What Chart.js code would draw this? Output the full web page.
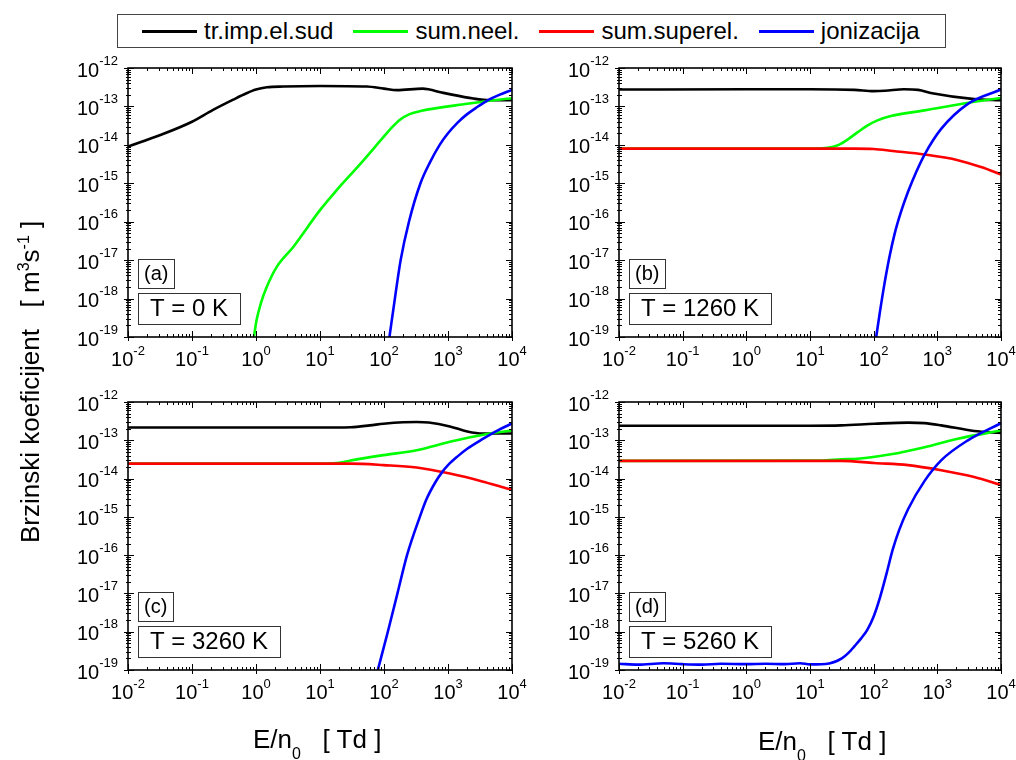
<!DOCTYPE html>
<html>
<head>
<meta charset="utf-8">
<script src="https://cdn.jsdelivr.net/npm/chart.js@4.4.0/dist/chart.umd.min.js"></script>
<style>
  body { margin: 0; background: #fff; font-family: "Liberation Sans", Arial, sans-serif; }
  #wrap { position: relative; width: 1016px; height: 760px; overflow: hidden; }
  #wrap canvas { position: absolute; left: 0; top: 0; }
  #legend {
    position: absolute; left: 117px; top: 14px; width: 829px; height: 34px;
    box-sizing: border-box; border: 1px solid #444; background: #fff;
    display: flex; align-items: center; padding-left: 24px; font-size: 24px;
  }
  #legend .line { display: inline-block; width: 55px; height: 3px; margin-right: 7px; }
  #legend .txt { margin-right: 20px; }
  .xtitle, .ytitle { position: absolute; font-size: 26px; line-height: 30px; white-space: pre; }
  .xtitle sub { font-size: 16px; vertical-align: -11px; line-height: 0; }
  .ytitle { transform: rotate(-90deg); transform-origin: left top; }
  .ytitle sup { font-size: 16px; vertical-align: 10px; line-height: 0; }
</style>
</head>
<body>
<div id="wrap">
  <canvas id="chartA" width="1016" height="760"></canvas>
  <canvas id="chartB" width="1016" height="760"></canvas>
  <canvas id="chartC" width="1016" height="760"></canvas>
  <canvas id="chartD" width="1016" height="760"></canvas>
  <div id="legend"></div>
  <div class="ytitle" style="left:15px; top:543px;">Brzinski koeficijent   [ m<sup>3</sup>s<sup>-1</sup> ]</div>
  <div class="xtitle" style="left:253px; top:724px;">E/n<sub>0</sub>   [ Td ]</div>
  <div class="xtitle" style="left:758px; top:726px;">E/n<sub>0</sub>   [ Td ]</div>
</div>
<script>
const seriesNames = ['tr.imp.el.sud', 'sum.neel.', 'sum.superel.', 'jonizacija'];
const seriesColors = ['#000000', '#00ff00', '#ff0000', '#0000ff'];

const panelTags = ['(a)', '(b)', '(c)', '(d)'];
const panelTemps = ['T = 0 K', 'T = 1260 K', 'T = 3260 K', 'T = 5260 K'];

const xTickExps = [-2, -1, 0, 1, 2, 3, 4];
const yTickExps = [-19, -18, -17, -16, -15, -14, -13, -12];

// (a) T = 0 K
const aTrX = [0.01, 0.032, 0.1, 0.21, 0.44, 0.71, 1, 1.48, 2.7, 10, 54, 100, 160, 400, 850, 2500, 4600, 10000];
const aTrY = [9e-15, 1.8e-14, 4e-14, 8e-14, 1.5e-13, 2.2e-13, 2.75e-13, 3.15e-13, 3.3e-13, 3.4e-13, 3.3e-13, 2.9e-13, 2.65e-13, 2.9e-13, 2.25e-13, 1.6e-13, 1.45e-13, 1.45e-13];
const aNeelX = [0.927, 1.023, 1.2, 1.47, 2.1, 3.82, 10, 18.2, 42.7, 97.7, 131.8, 177.8, 251, 371, 1995, 8318, 10000];
const aNeelY = [1e-19, 2.8e-19, 7.9e-19, 2e-18, 6.6e-18, 2.2e-17, 2e-16, 6.6e-16, 3.2e-15, 1.58e-14, 2.8e-14, 4.5e-14, 6.3e-14, 7.6e-14, 1.17e-13, 1.58e-13, 1.62e-13];
const aIonX = [121.6, 147.9, 182, 245.5, 371.5, 524.8, 741.3, 1000, 1413, 1995, 2818, 3981, 6310, 10000];
const aIonY = [1e-19, 1e-18, 1e-17, 1e-16, 1e-15, 3.55e-15, 1e-14, 2e-14, 3.8e-14, 6.3e-14, 9.5e-14, 1.38e-13, 2e-13, 2.7e-13];

// (b) T = 1260 K
const bTrX = [0.01, 1, 10, 50, 100, 150, 300, 500, 830, 3800, 10000];
const bTrY = [2.75e-13, 2.8e-13, 2.8e-13, 2.7e-13, 2.5e-13, 2.55e-13, 2.8e-13, 2.7e-13, 2.2e-13, 1.55e-13, 1.45e-13];
const bNeelX = [0.01, 10, 20, 28.2, 39.8, 56.2, 79.4, 112.2, 186.2, 631, 3800, 10000];
const bNeelY = [8e-15, 8e-15, 8.5e-15, 1e-14, 1.41e-14, 2.14e-14, 3.16e-14, 4.27e-14, 5.6e-14, 7.9e-14, 1.32e-13, 1.66e-13];
const bSupX = [0.01, 10, 50, 100, 200, 630, 2100, 5000, 10000];
const bSupY = [8e-15, 8e-15, 8e-15, 7.8e-15, 6.9e-15, 5.6e-15, 4e-15, 2.6e-15, 1.7e-15];
const bIonX = [109.6, 125.9, 147.9, 177.8, 213.8, 269.2, 346.7, 467.7, 631, 1148, 3020, 10000];
const bIonY = [1e-19, 4.7e-19, 2.45e-18, 1.26e-17, 4.9e-17, 1.82e-16, 6e-16, 2e-15, 5.6e-15, 2.6e-14, 1.17e-13, 2.75e-13];

// (c) T = 3260 K
const cTrX = [0.01, 1, 10, 30, 60, 98, 200, 324, 500, 1070, 2000, 3500, 10000];
const cTrY = [2.15e-13, 2.15e-13, 2.15e-13, 2.2e-13, 2.45e-13, 2.7e-13, 2.95e-13, 3e-13, 2.9e-13, 2.3e-13, 1.7e-13, 1.5e-13, 1.5e-13];
const cNeelX = [0.01, 12.6, 20, 30, 98, 324, 1070, 3550, 10000];
const cNeelY = [2.45e-14, 2.46e-14, 2.57e-14, 2.95e-14, 4.1e-14, 5.5e-14, 9.1e-14, 1.4e-13, 1.8e-13];
const cSupX = [0.01, 10, 30, 98, 324, 1070, 3550, 8300, 10000];
const cSupY = [2.45e-14, 2.45e-14, 2.45e-14, 2.25e-14, 1.95e-14, 1.35e-14, 8.3e-15, 5.5e-15, 5.1e-15];
const cIonX = [80, 114.8, 162.2, 229.1, 363, 457.1, 631, 794, 1000, 1413, 1995, 3388, 6310, 10000];
const cIonY = [1e-19, 1e-18, 1e-17, 1e-16, 1e-15, 2.8e-15, 7.9e-15, 1.41e-14, 2.24e-14, 3.8e-14, 6e-14, 1.05e-13, 1.9e-13, 2.75e-13];

// (d) T = 5260 K
const dTrX = [0.01, 1, 10, 31, 102, 347, 631, 1150, 3800, 10000];
const dTrY = [2.4e-13, 2.4e-13, 2.4e-13, 2.45e-13, 2.7e-13, 2.9e-13, 2.8e-13, 2.45e-13, 1.75e-13, 1.55e-13];
const dNeelX = [0.01, 15, 31, 56, 186, 630, 2100, 10000];
const dNeelY = [2.9e-14, 2.95e-14, 3.2e-14, 3.3e-14, 4.3e-14, 6.6e-14, 1.1e-13, 1.8e-13];
const dSupX = [0.01, 10, 31, 102, 347, 1150, 3800, 10000];
const dSupY = [2.9e-14, 2.9e-14, 2.9e-14, 2.55e-14, 2.25e-14, 1.65e-14, 1.1e-14, 6.8e-15];
const dIonX = [0.01, 0.02, 0.05, 0.1, 0.2, 0.4, 1, 2, 4, 7, 10, 20, 31.6, 39.8, 50.1, 63.1, 79.4, 100, 125.9, 158.5, 199.5, 251.2, 346.7, 631, 1148, 3020, 10000];
const dIonY = [1.45e-19, 1.38e-19, 1.5e-19, 1.42e-19, 1.38e-19, 1.45e-19, 1.42e-19, 1.45e-19, 1.42e-19, 1.5e-19, 1.4e-19, 1.48e-19, 2e-19, 2.75e-19, 4.2e-19, 6.6e-19, 1.12e-18, 2.5e-18, 7.9e-18, 3.2e-17, 1.41e-16, 4.5e-16, 1.58e-15, 8.7e-15, 3e-14, 1e-13, 2.8e-13];

const FONT = '"Liberation Sans", Arial, sans-serif';

// legend
let legend = document.getElementById('legend');
seriesNames.forEach(function (name, i) {
    let line = document.createElement('span');
    line.className = 'line';
    line.style.background = seriesColors[i];
    legend.appendChild(line);
    let txt = document.createElement('span');
    txt.className = 'txt';
    txt.textContent = name;
    legend.appendChild(txt);
});

// draws "10" with a superscript exponent; x is left edge
let drawPow = function (ctx, exp, x, baseY, supY) {
    ctx.font = '20px ' + FONT;
    let wb = ctx.measureText('10').width;
    ctx.fillText('10', x, baseY);
    ctx.font = '13px ' + FONT;
    ctx.fillText(String(exp), x + wb, supY);
};
let powWidth = function (ctx, exp) {
    ctx.font = '20px ' + FONT;
    let wb = ctx.measureText('10').width;
    ctx.font = '13px ' + FONT;
    return wb + ctx.measureText(String(exp)).width;
};

let labelBox = function (ctx, text, x, top, h, size, pad) {
    ctx.font = size + 'px ' + FONT;
    let w = Math.round(ctx.measureText(text).width + 2 * pad);
    ctx.fillStyle = '#fff';
    ctx.fillRect(x, top, w, h);
    ctx.strokeStyle = '#333';
    ctx.lineWidth = 1;
    ctx.strokeRect(x + 0.5, top + 0.5, w, h);
    ctx.fillStyle = '#000';
    ctx.textBaseline = 'middle';
    ctx.fillText(text, x + pad, top + h / 2 + 1);
    ctx.textBaseline = 'alphabetic';
};

const panelPlugin = {
    id: 'panel',
    afterDatasetsDraw(chart, args, opts) {
        let ctx = chart.ctx, a = chart.chartArea, xs = chart.scales.x, ys = chart.scales.y;
        ctx.save();
        ctx.strokeStyle = '#000';
        ctx.lineWidth = 1;
        ctx.beginPath();
        xTickExps.forEach(function (e, i) {
            for (let m = 1; m < 10; m++) {
                if (m > 1 && i === xTickExps.length - 1) break;
                let px = Math.round(xs.getPixelForValue(m * Math.pow(10, e))) + 0.5;
                let len = m === 1 ? 6 : 3;
                ctx.moveTo(px, a.bottom + (m === 1 ? 4 : 0));
                ctx.lineTo(px, a.bottom - len);
                ctx.moveTo(px, a.top);
                ctx.lineTo(px, a.top + len);
            }
        });
        yTickExps.forEach(function (e, i) {
            for (let m = 1; m < 10; m++) {
                if (m > 1 && i === yTickExps.length - 1) break;
                let py = Math.round(ys.getPixelForValue(m * Math.pow(10, e))) + 0.5;
                let len = m === 1 ? 6 : 3;
                ctx.moveTo(a.left - (m === 1 ? 4 : 2), py);
                ctx.lineTo(a.left + len, py);
                ctx.moveTo(a.right, py);
                ctx.lineTo(a.right - len, py);
            }
        });
        ctx.stroke();
        ctx.lineWidth = 1.6;
        ctx.strokeRect(a.left, a.top, a.right - a.left, a.bottom - a.top);

        // tick labels
        ctx.fillStyle = '#000';
        ctx.textAlign = 'left';
        yTickExps.forEach(function (e) {
            let py = ys.getPixelForValue(Math.pow(10, e));
            let w = powWidth(ctx, e);
            drawPow(ctx, e, a.left - 10 - w, py + 8.5, py - 3.5);
        });
        xTickExps.forEach(function (e) {
            let px = xs.getPixelForValue(Math.pow(10, e));
            let w = powWidth(ctx, e);
            drawPow(ctx, e, px - w / 2, a.bottom + 29, a.bottom + 18);
        });

        labelBox(ctx, opts.tag, a.left + 10, a.bottom - 78, 29, 20, 6);
        labelBox(ctx, opts.temp, a.left + 10, a.bottom - 44, 31, 24, 12);
        ctx.restore();
    }
};

let makeChart = function (id, box, tag, temp, sets) {
    let datasets = [];
    sets.forEach(function (s, i) {
        if (!s) return;
        datasets.push({
            label: seriesNames[i],
            data: s[0].map(function (x, k) { return { x: x, y: s[1][k] }; }),
            borderColor: seriesColors[i],
            borderWidth: 2.6,
            pointRadius: 0,
            fill: false,
            cubicInterpolationMode: 'monotone',
            order: 4 - i
        });
    });
    new Chart(document.getElementById(id), {
        type: 'line',
        data: { datasets: datasets },
        options: {
            responsive: false,
            animation: false,
            devicePixelRatio: 1,
            events: [],
            layout: { padding: { left: box[0], top: box[1], right: 1016 - box[2], bottom: 760 - box[3] } },
            plugins: {
                legend: { display: false },
                tooltip: { enabled: false },
                panel: { tag: tag, temp: temp }
            },
            scales: {
                x: { type: 'logarithmic', min: 0.01, max: 10000, display: false },
                y: { type: 'logarithmic', min: 1e-19, max: 1e-12, display: false }
            }
        },
        plugins: [panelPlugin]
    });
};

makeChart('chartA', [128, 68, 512, 337], panelTags[0], panelTemps[0],
    [[aTrX, aTrY], [aNeelX, aNeelY], null, [aIonX, aIonY]]);
makeChart('chartB', [619, 68, 1001, 337], panelTags[1], panelTemps[1],
    [[bTrX, bTrY], [bNeelX, bNeelY], [bSupX, bSupY], [bIonX, bIonY]]);
makeChart('chartC', [128, 402, 512, 670], panelTags[2], panelTemps[2],
    [[cTrX, cTrY], [cNeelX, cNeelY], [cSupX, cSupY], [cIonX, cIonY]]);
makeChart('chartD', [619, 402, 1001, 670], panelTags[3], panelTemps[3],
    [[dTrX, dTrY], [dNeelX, dNeelY], [dSupX, dSupY], [dIonX, dIonY]]);
</script>
</body>
</html>
